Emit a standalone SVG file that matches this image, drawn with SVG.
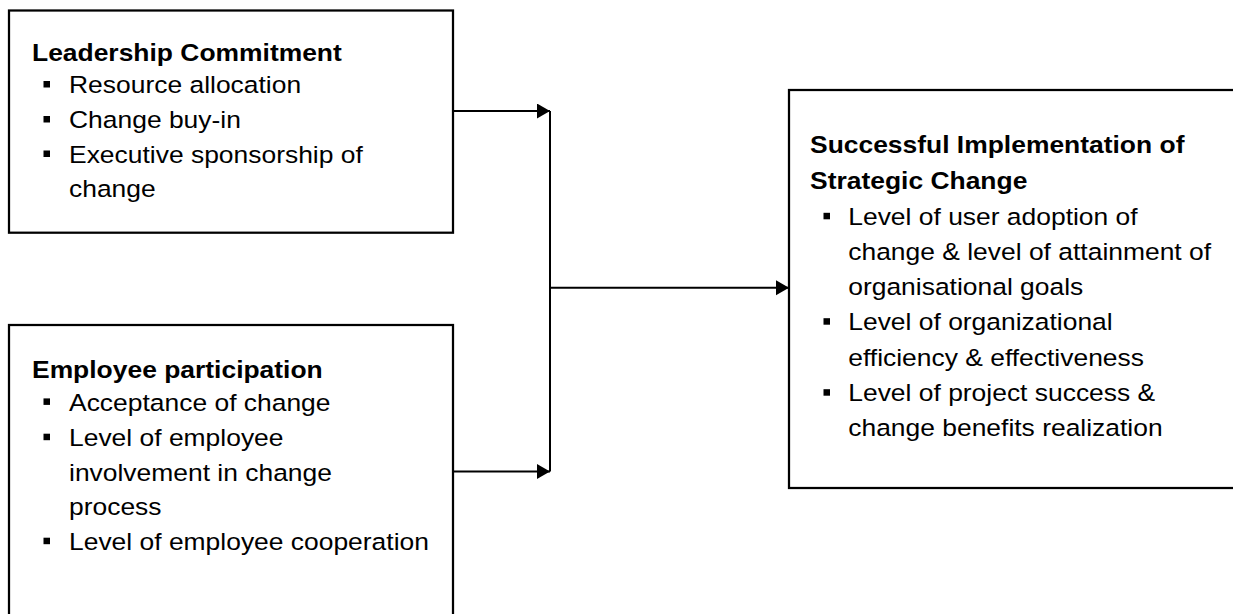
<svg xmlns="http://www.w3.org/2000/svg" width="1233" height="614" viewBox="0 0 1233 614">
<style>
.box{fill:#fff;stroke:#000;stroke-width:2.25}
.t{font-family:"Liberation Sans",Arial,sans-serif;font-size:23.5px;fill:#000}
.b{font-weight:bold}
.bul{fill:#000}
.con{fill:none;stroke:#000;stroke-width:2}
</style>
<defs>
<marker id="arr" markerWidth="14" markerHeight="16" refX="13" refY="7.5" orient="auto" markerUnits="userSpaceOnUse">
<path d="M0,0 L13,7.5 L0,15 Z" fill="#000"/>
</marker>
</defs>
<rect width="1233" height="614" fill="#fff"/>
<g id="leadership">
<rect class="box" x="9" y="10.5" width="444" height="222.2"/>
<g transform="translate(32,0) scale(1.125,1)">
<text class="t b" x="0" y="61">Leadership Commitment</text>
<text class="t" x="32.9" y="93.3">Resource allocation</text>
<text class="t" x="32.9" y="128.3">Change buy-in</text>
<text class="t" x="32.9" y="162.8">Executive sponsorship of</text>
<text class="t" x="32.9" y="197">change</text>
</g>
<rect class="bul" x="43.5" y="81" width="6.5" height="6.5"/>
<rect class="bul" x="43.5" y="116" width="6.5" height="6.5"/>
<rect class="bul" x="43.5" y="150.5" width="6.5" height="6.5"/>
</g>
<g id="employee">
<rect class="box" x="9" y="325" width="444" height="300"/>
<g transform="translate(32,0) scale(1.125,1)">
<text class="t b" x="0" y="378.3">Employee participation</text>
<text class="t" x="32.9" y="410.7">Acceptance of change</text>
<text class="t" x="32.9" y="446">Level of employee</text>
<text class="t" x="32.9" y="480.7">involvement in change</text>
<text class="t" x="32.9" y="515">process</text>
<text class="t" x="32.9" y="550">Level of employee cooperation</text>
</g>
<rect class="bul" x="43.5" y="398.4" width="6.5" height="6.5"/>
<rect class="bul" x="43.5" y="433.7" width="6.5" height="6.5"/>
<rect class="bul" x="43.5" y="537.7" width="6.5" height="6.5"/>
</g>
<g id="success">
<rect class="box" x="789" y="90" width="460" height="398"/>
<g transform="translate(810,0) scale(1.125,1)">
<text class="t b" x="0" y="153.5">Successful Implementation of</text>
<text class="t b" x="0" y="189">Strategic Change</text>
<text class="t" x="34" y="225">Level of user adoption of</text>
<text class="t" x="34" y="260">change &amp; level of attainment of</text>
<text class="t" x="34" y="295">organisational goals</text>
<text class="t" x="34" y="330.5">Level of organizational</text>
<text class="t" x="34" y="366">efficiency &amp; effectiveness</text>
<text class="t" x="34" y="401.5">Level of project success &amp;</text>
<text class="t" x="34" y="436.5">change benefits realization</text>
</g>
<rect class="bul" x="823.5" y="212.8" width="6.5" height="6.5"/>
<rect class="bul" x="823.5" y="318.2" width="6.5" height="6.5"/>
<rect class="bul" x="823.5" y="389.2" width="6.5" height="6.5"/>
</g>
<g id="connectors">
<path class="con" d="M453,111 H550" marker-end="url(#arr)"/>
<path class="con" d="M453,471.5 H550" marker-end="url(#arr)"/>
<path class="con" d="M550,111 V471.5"/>
<path class="con" d="M550,287.7 H789" marker-end="url(#arr)"/>
</g>
</svg>
